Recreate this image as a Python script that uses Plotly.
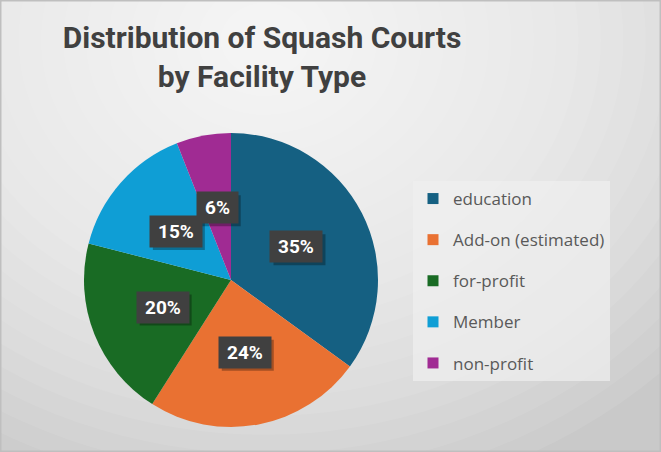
import math
import plotly.graph_objects as go

# chart data
labels = ["education", "Add-on (estimated)", "for-profit", "Member", "non-profit"]
shares = [35, 24, 20, 15, 6]
colors = ["#156082", "#E97132", "#196B24", "#0F9ED5", "#A02B93"]
title_text = "Distribution of Squash Courts<br>by Facility Type"

W, H = 661, 452
# pie geometry in pixels
cx, cy, R = 231, 280, 147

fig = go.Figure()

fig.add_trace(go.Pie(
    labels=labels,
    values=shares,
    marker=dict(colors=colors, line=dict(width=0)),
    sort=False,
    direction="clockwise",
    rotation=0,
    textinfo="none",
    hoverinfo="label+percent",
    showlegend=False,
    domain=dict(x=[(cx - R) / W, (cx + R) / W], y=[1 - (cy + R) / H, 1 - (cy - R) / H]),
))

# legend entries (square markers) so the spacing can be opened up
for lab, col in zip(labels, colors):
    fig.add_trace(go.Scatter(
        x=[None], y=[None], mode="markers", name=lab, legendgroup=lab,
        marker=dict(symbol="square", size=11, color=col),
    ))

# soft radial background
shapes = []
steps = 25
for i in range(steps):
    f = 1 - i / steps
    rx, ry = 560 * f, 470 * f
    ox, oy = 265, 40
    shapes.append(dict(
        type="circle", xref="paper", yref="paper", layer="below",
        x0=(ox - rx) / W, x1=(ox + rx) / W,
        y0=1 - (oy + ry) / H, y1=1 - (oy - ry) / H,
        fillcolor="rgba(255,255,255,0.08)", line=dict(width=0),
    ))

# percentage labels in dark boxes, placed half way out along each slice
total = sum(shares)
start = 0.0
annotations = []
for v in shares:
    mid = (start + v / 2) / total * 2 * math.pi
    start += v
    px = cx + 0.5 * R * math.sin(mid)
    py = cy - 0.5 * R * math.cos(mid)
    pct = f"{round(v / total * 100)}%"
    bw, bh = (52 if len(pct) > 2 else 41), 31
    # drop shadow behind the label box
    shapes.append(dict(
        type="rect", xref="paper", yref="paper", layer="above",
        x0=(px - bw / 2 + 3) / W, x1=(px + bw / 2 + 3) / W,
        y0=1 - (py + bh / 2 + 3) / H, y1=1 - (py - bh / 2 + 3) / H,
        fillcolor="rgba(0,0,0,0.3)", line=dict(width=0),
    ))
    annotations.append(dict(
        x=px / W, y=1 - py / H, xref="paper", yref="paper",
        xanchor="center", yanchor="middle",
        text=f"<b>{pct}</b>", showarrow=False,
        width=bw, height=bh, borderpad=0,
        font=dict(family="Roboto", size=19, color="white"),
        bgcolor="#404040",
    ))

shapes.append(dict(
    type="rect", xref="paper", yref="paper", x0=0, x1=1, y0=0, y1=1,
    line=dict(color="#bfbfbf", width=3), layer="above",
))

fig.update_layout(
    width=W, height=H,
    margin=dict(l=0, r=0, t=0, b=0),
    paper_bgcolor="#c9c9c9",
    plot_bgcolor="rgba(0,0,0,0)",
    xaxis=dict(visible=False),
    yaxis=dict(visible=False),
    title=dict(
        text=title_text, x=262 / W, xanchor="center", y=1 - 48 / H, yanchor="top",
        font=dict(family="Roboto", size=30, color="#404040", weight="bold"),
    ),
    legend=dict(
        x=413 / W, xanchor="left", y=1 - 181 / H, yanchor="top",
        bgcolor="rgba(240,240,240,0.7)",
        font=dict(family="Open Sans", size=17, color="#595959"),
        tracegroupgap=16,
        borderwidth=0,
    ),
    shapes=shapes,
    annotations=annotations,
)

fig.write_html("out.html", config={"displayModeBar": False},
               post_script="document.body.style.margin='0';")
